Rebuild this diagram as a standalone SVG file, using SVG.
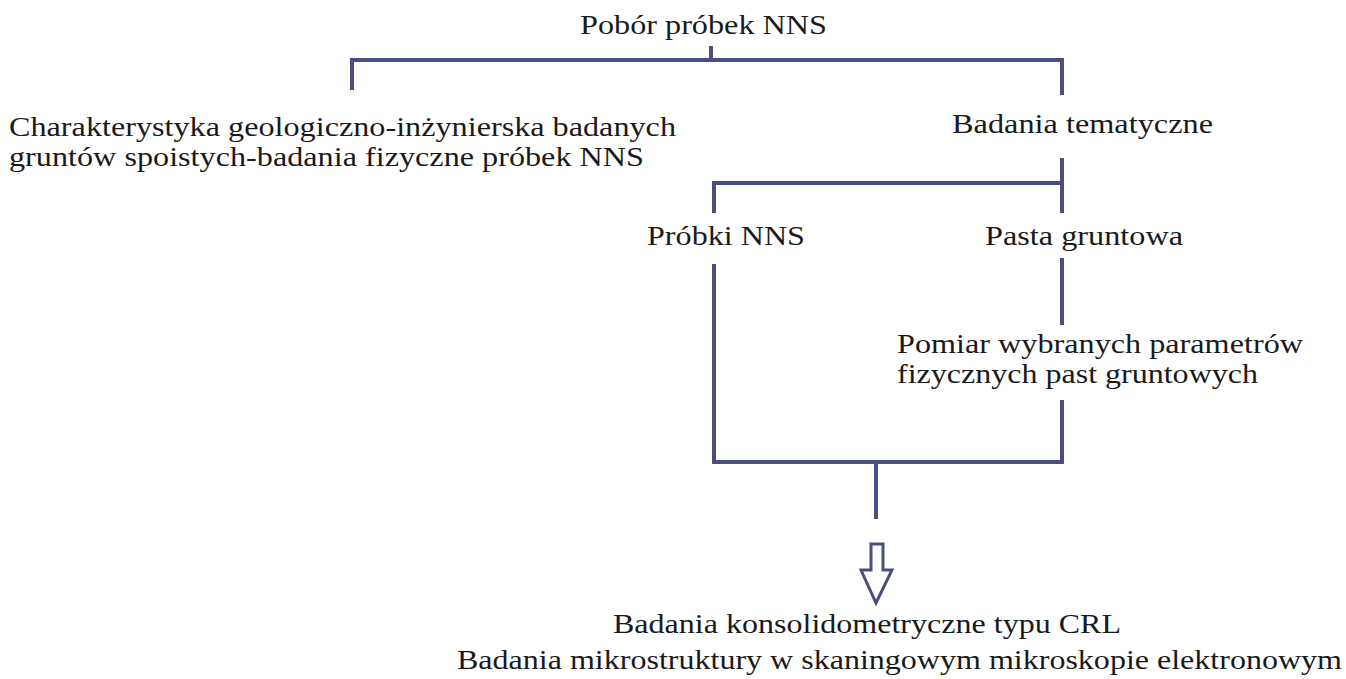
<svg xmlns="http://www.w3.org/2000/svg" width="1346" height="679" viewBox="0 0 1346 679">
<style>
.t{font-family:"Liberation Serif","Times New Roman",serif;font-size:27px;fill:#1a1a1a}
.c{stroke:#4b4e7e;stroke-width:4;fill:none;stroke-linecap:butt}
.ar{stroke:#4b4e7e;stroke-width:3;fill:#ffffff;stroke-linejoin:miter}
</style>
<rect x="0" y="0" width="1346" height="679" fill="#ffffff"/>
<g id="connectors">
<line class="c" x1="711" y1="46" x2="711" y2="60"/>
<polyline class="c" points="352,90 352,60 1062,60 1062,95"/>
<line class="c" x1="1062" y1="158" x2="1062" y2="213"/>
<polyline class="c" points="714,213 714,183 1062,183"/>
<line class="c" x1="1062" y1="258" x2="1062" y2="325"/>
<polyline class="c" points="714,264 714,462 1062,462 1062,400"/>
<line class="c" x1="876" y1="462" x2="876" y2="519"/>
<polygon class="ar" points="871,544 883,544 883,570 892,570 876,603 861,570 871,570"/>
</g>
<g id="n-pobor"><text class="t" x="580" y="34" textLength="247" lengthAdjust="spacingAndGlyphs">Pobór próbek NNS</text></g>
<g id="n-charakterystyka">
<text class="t" x="9" y="136" textLength="667" lengthAdjust="spacingAndGlyphs">Charakterystyka geologiczno-inżynierska badanych</text>
<text class="t" x="9" y="166" textLength="635" lengthAdjust="spacingAndGlyphs">gruntów spoistych-badania fizyczne próbek NNS</text>
</g>
<g id="n-badania-tematyczne"><text class="t" x="952" y="133" textLength="261" lengthAdjust="spacingAndGlyphs">Badania tematyczne</text></g>
<g id="n-probki"><text class="t" x="647" y="245" textLength="158" lengthAdjust="spacingAndGlyphs">Próbki NNS</text></g>
<g id="n-pasta"><text class="t" x="985" y="245" textLength="198" lengthAdjust="spacingAndGlyphs">Pasta gruntowa</text></g>
<g id="n-pomiar">
<text class="t" x="897" y="353" textLength="406" lengthAdjust="spacingAndGlyphs">Pomiar wybranych parametrów</text>
<text class="t" x="897" y="383" textLength="361" lengthAdjust="spacingAndGlyphs">fizycznych past gruntowych</text>
</g>
<g id="n-wynik">
<text class="t" x="613" y="633" textLength="508" lengthAdjust="spacingAndGlyphs">Badania konsolidometryczne typu CRL</text>
<text class="t" x="457" y="669" textLength="885" lengthAdjust="spacingAndGlyphs">Badania mikrostruktury w skaningowym mikroskopie elektronowym</text>
</g>
</svg>
